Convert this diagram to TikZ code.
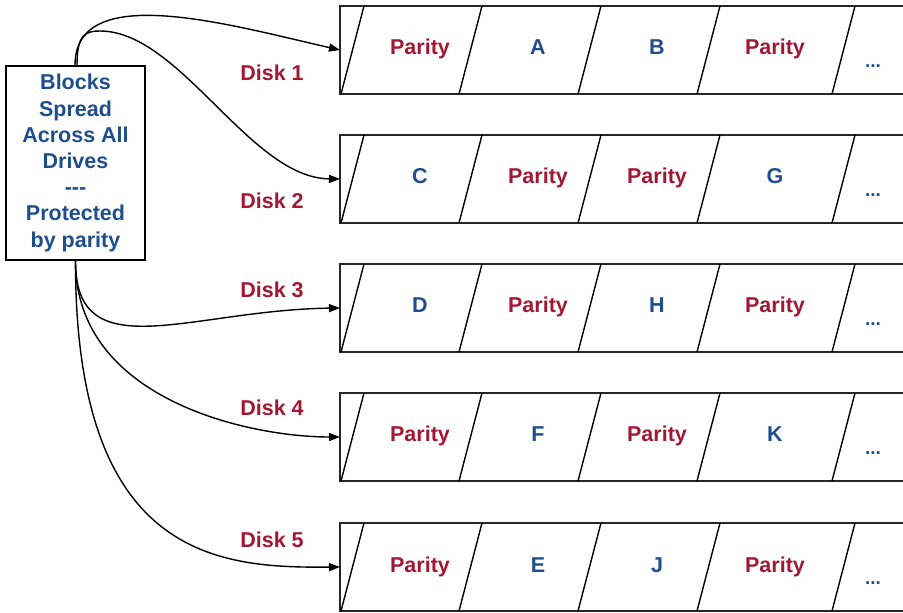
\documentclass[tikz,border=0pt]{standalone}
\usepackage{fontspec}
\setmainfont{Liberation Sans}
\usetikzlibrary{arrows.meta}
\definecolor{dred}{RGB}{162,24,52}
\definecolor{dblue}{RGB}{31,78,140}
\begin{document}
\begin{tikzpicture}[x=1pt,y=-1pt,
  lbl/.style={font=\fontsize{21.5}{26}\selectfont\bfseries,text height=15.4pt,text depth=0pt,inner sep=0pt},
  redtxt/.style={lbl,text=dred},
  bluetxt/.style={lbl,text=dblue},
  dots/.style={text=dblue,font=\fontsize{19}{20}\selectfont\bfseries,inner sep=0pt,text height=3pt,text depth=0pt},
  rowline/.style={line width=1.8pt,draw=black!85},
  slant/.style={line width=1.4pt},
  conn/.style={line width=1.4pt,-{Triangle[length=11pt,width=8pt]}},
]
\useasboundingbox (0,0) rectangle (903,613);

% source box
\node[draw,line width=1.6pt,minimum width=139pt,minimum height=194pt,inner sep=0pt,
      align=center,text=dblue,font=\fontsize{21.5}{26.2}\selectfont\bfseries] (box) at (75.5,163)
  {Blocks\\Spread\\Across All\\Drives\\-{}-{}-\\Protected\\by parity};

% disk rows
\foreach \i/\t in {1/6,2/135,3/264,4/393,5/523}{
  \draw[rowline] (903,\t) -- (340,\t) -- (340,\t+88) -- (903,\t+88);
  \foreach \b in {341,459,578,697,832}{
    \draw[slant] (\b,\t+88) -- (\b+23,\t);
  }
  \coordinate (d\i) at (340,\t+44);
  \node[dots] (dots\i) at (873,\t+60) {...};
}

% row contents
\node[redtxt]  (c11) at (420,47) {Parity};
\node[bluetxt] (c12) at (538,47) {A};
\node[bluetxt] (c13) at (657,47) {B};
\node[redtxt]  (c14) at (775,47) {Parity};

\node[bluetxt] (c21) at (420,176) {C};
\node[redtxt]  (c22) at (538,176) {Parity};
\node[redtxt]  (c23) at (657,176) {Parity};
\node[bluetxt] (c24) at (775,176) {G};

\node[bluetxt] (c31) at (420,305) {D};
\node[redtxt]  (c32) at (538,305) {Parity};
\node[bluetxt] (c33) at (657,305) {H};
\node[redtxt]  (c34) at (775,305) {Parity};

\node[redtxt]  (c41) at (420,434) {Parity};
\node[bluetxt] (c42) at (538,434) {F};
\node[redtxt]  (c43) at (657,434) {Parity};
\node[bluetxt] (c44) at (775,434) {K};

\node[redtxt]  (c51) at (420,565) {Parity};
\node[bluetxt] (c52) at (538,565) {E};
\node[bluetxt] (c53) at (657,565) {J};
\node[redtxt]  (c54) at (775,565) {Parity};

% disk labels
\node[redtxt] (L1) at (272,73) {Disk 1};
\node[redtxt] (L2) at (272,201) {Disk 2};
\node[redtxt] (L3) at (272,290) {Disk 3};
\node[redtxt] (L4) at (272,408) {Disk 4};
\node[redtxt] (L5) at (272,540) {Disk 5};

% connectors
\coordinate (w2) at (100,31);
\draw[conn] ([xshift=-0.5pt]box.north) .. controls (75,-20) and (230,25) .. (d1);
\draw[conn] ([xshift=1.5pt]box.north) .. controls (77,35) and (85,31) .. (w2)
            .. controls (180,31) and (250,178) .. (d2);
\draw[conn] (box.south) .. controls (75,370) and (190,310) .. (d3);
\draw[conn] (box.south) .. controls (75,400) and (250,437) .. (d4);
\draw[conn] (box.south) .. controls (75,560) and (220,568) .. (d5);
\end{tikzpicture}
\end{document}
